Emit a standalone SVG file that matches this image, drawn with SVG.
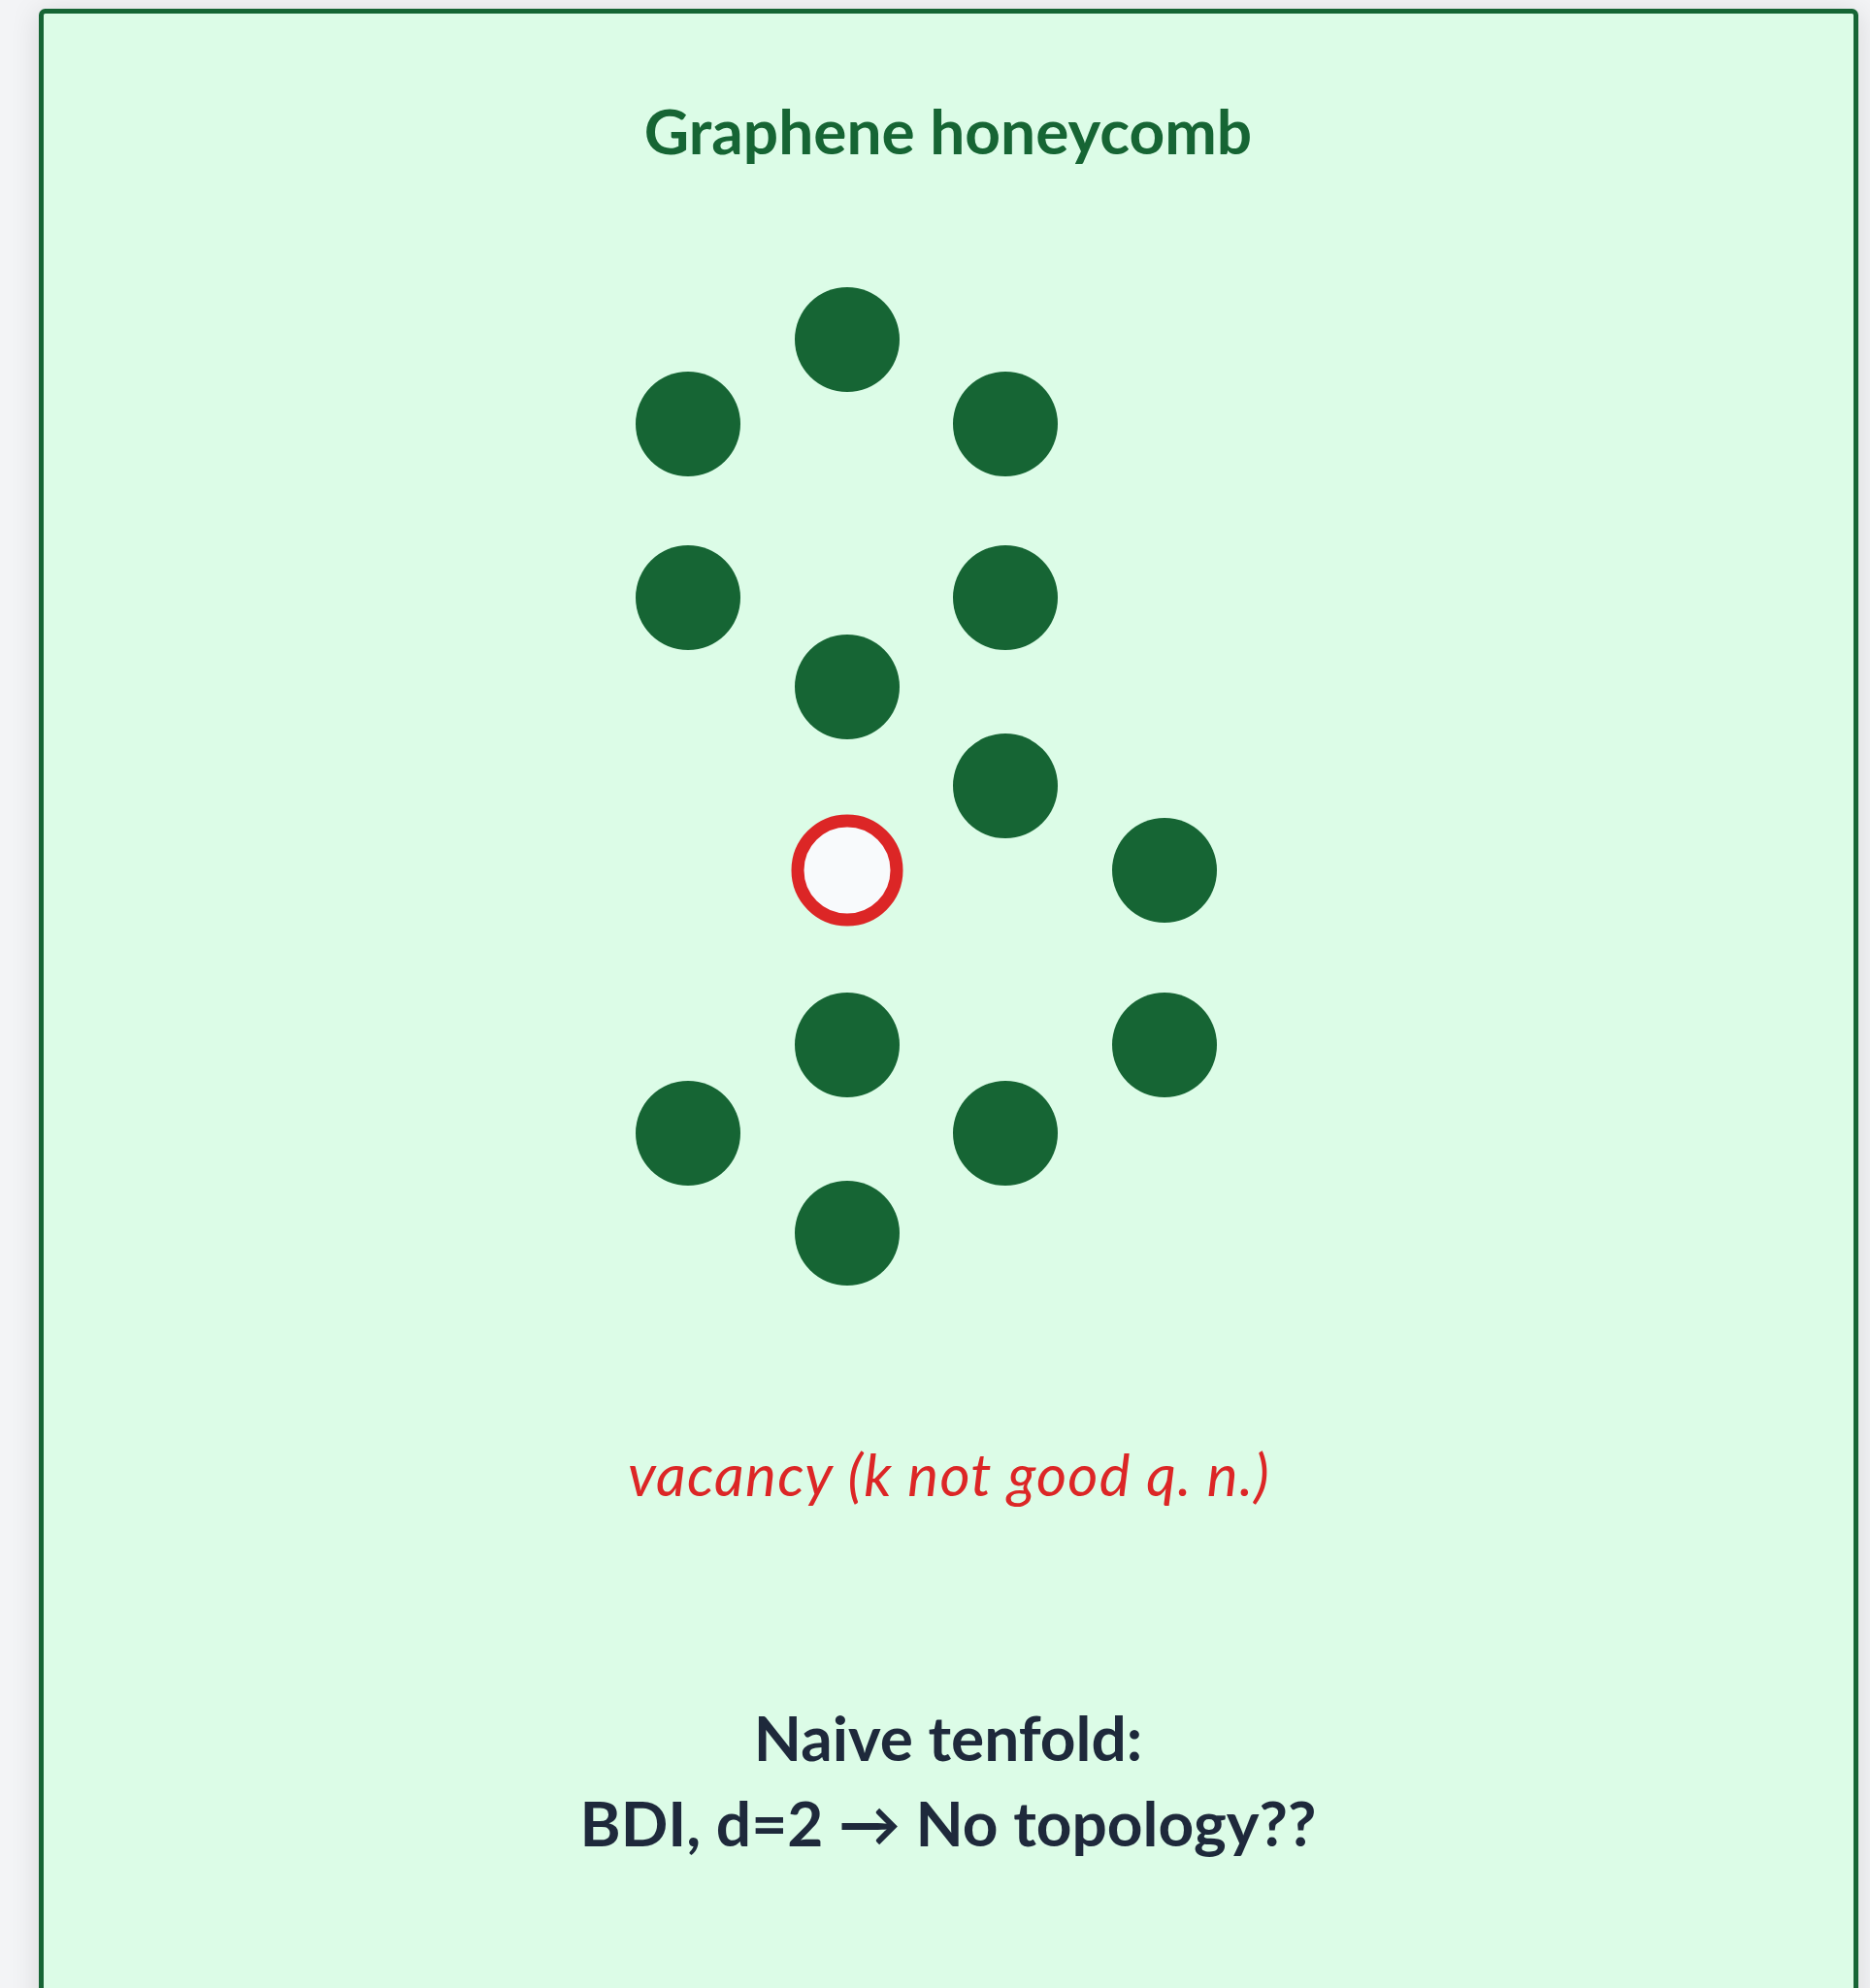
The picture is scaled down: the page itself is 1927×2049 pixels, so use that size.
<svg xmlns="http://www.w3.org/2000/svg" width="1927" height="2049" viewBox="0 0 1927 2049">
  <defs>
    <filter id="shadow" x="-5%" y="-5%" width="110%" height="110%">
      <feDropShadow dx="0" dy="4" stdDeviation="14" flood-color="#0f172a" flood-opacity="0.12"/>
    </filter>
    <style>
      .atom { fill: #166534; }
      .vacancy { fill: #f8fafc; stroke: #dc2626; stroke-width: 13; }
      .title { font-family: Lato, "Liberation Sans", sans-serif; font-weight: bold; font-size: 64px; fill: #166534; text-anchor: middle; }
      .note { font-family: Lato, "Liberation Sans", sans-serif; font-style: italic; font-size: 60px; letter-spacing: 1.3px; fill: #dc2626; text-anchor: middle; }
      .caption { font-family: Lato, "Liberation Sans", sans-serif; font-weight: bold; font-size: 64px; fill: #1e293b; text-anchor: middle; }
    </style>
  </defs>
  <rect x="0" y="0" width="1927" height="2049" fill="#f3f4f6"/>
  <g id="card">
    <rect x="42.5" y="11.5" width="1870" height="2100" rx="4" fill="#dcfce7" stroke="#166534" stroke-width="5" filter="url(#shadow)"/>
  </g>
  <g id="title"><text class="title" x="977" y="159">Graphene honeycomb</text></g>
  <g id="connectors"></g>
  <g id="atoms">
    <g id="a1"><circle class="atom" cx="873" cy="350" r="54"/></g>
    <g id="a2"><circle class="atom" cx="709" cy="437" r="54"/></g>
    <g id="a3"><circle class="atom" cx="1036" cy="437" r="54"/></g>
    <g id="a4"><circle class="atom" cx="709" cy="616" r="54"/></g>
    <g id="a5"><circle class="atom" cx="1036" cy="616" r="54"/></g>
    <g id="a6"><circle class="atom" cx="873" cy="708" r="54"/></g>
    <g id="a7"><circle class="atom" cx="1036" cy="810" r="54"/></g>
    <g id="vac"><circle class="vacancy" cx="873" cy="897" r="51"/></g>
    <g id="a8"><circle class="atom" cx="1200" cy="897" r="54"/></g>
    <g id="a9"><circle class="atom" cx="873" cy="1077" r="54"/></g>
    <g id="a10"><circle class="atom" cx="1200" cy="1077" r="54"/></g>
    <g id="a11"><circle class="atom" cx="709" cy="1168" r="54"/></g>
    <g id="a12"><circle class="atom" cx="1036" cy="1168" r="54"/></g>
    <g id="a13"><circle class="atom" cx="873" cy="1271" r="54"/></g>
  </g>
  <g id="vacancy-label"><text class="note" x="978" y="1542">vacancy (k not good q. n.)</text></g>
  <g id="caption">
    <text class="caption" x="977" y="1815">Naive tenfold:</text>
    <text class="caption" x="977" y="1903">BDI, d=2 → No topology??</text>
  </g>
</svg>
